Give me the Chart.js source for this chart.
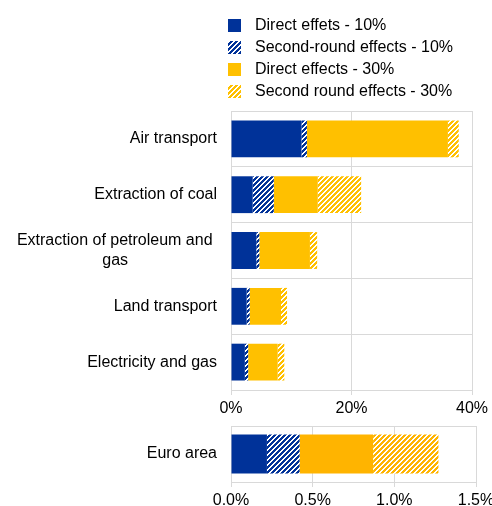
<!DOCTYPE html>
<html>
<head>
<meta charset="utf-8">
<script src="https://cdn.jsdelivr.net/npm/chart.js@4.4.0/dist/chart.umd.min.js"></script>
<style>
  body { margin: 0; background: #fff; font-family: "Liberation Sans", Arial, sans-serif; }
  #wrap { position: relative; width: 492px; height: 506px; overflow: hidden; }
  #legend { position: absolute; left: 228px; top: 14px; font-size: 16px; color: #000; }
  .item { display: flex; align-items: center; height: 22px; white-space: nowrap; }
  .item canvas { width: 13px; height: 13px; margin-right: 14px; }
  #top { position: absolute; left: 0; top: 100px; }
  #bottom { position: absolute; left: 0; top: 416px; }
</style>
</head>
<body>
<div id="wrap">
  <div id="legend"></div>
  <canvas id="top" width="492" height="330"></canvas>
  <canvas id="bottom" width="492" height="90"></canvas>
</div>
<script>
const BLUE = "#003299";
const YELLOW = "#FFC000";
const YELLOW_EA = "#FFB400";
const FONT = { family: "'Liberation Sans', Arial, sans-serif", size: 16 };

// series names
const seriesNames = [
  "Direct effets - 10%",
  "Second-round effects - 10%",
  "Direct effects - 30%",
  "Second round effects - 30%",
];

// sectors (top panel), values in %
const sectors = [
  "Air transport",
  "Extraction of coal",
  ["Extraction of petroleum and", "gas"],
  "Land transport",
  "Electricity and gas",
];
const direct10 = [11.7, 3.6, 4.2, 2.6, 2.3];
const second10 = [0.9, 3.5, 0.5, 0.5, 0.55];
const direct30 = [23.4, 7.3, 8.4, 5.2, 4.9];
const second30 = [1.8, 7.2, 1.2, 1.0, 1.1];
const topTickLabels = ["0%", "20%", "40%"];

// euro area (bottom panel), values in %
const euroLabel = ["Euro area"];
const euroDirect10 = [0.22];
const euroSecond10 = [0.2];
const euroDirect30 = [0.45];
const euroSecond30 = [0.4];
const euroTickLabels = ["0.0%", "0.5%", "1.0%", "1.5%"];

function hatchCanvas(color) {
  const c = document.createElement("canvas");
  c.width = c.height = 5;
  const g = c.getContext("2d");
  g.fillStyle = "#fff";
  g.fillRect(0, 0, 5, 5);
  g.fillStyle = color;
  for (let y = 0; y < 5; y++)
    for (let x = 0; x < 5; x++)
      if ((x + y) % 5 >= 2) g.fillRect(x, y, 1, 1);
  return c;
}
const hatch = (color) => document.createElement("canvas").getContext("2d").createPattern(hatchCanvas(color), "repeat");

// wrapped label: first line keeps a trailing space, second line centred under it
function centerSecondLine(lines) {
  const g = document.createElement("canvas").getContext("2d");
  g.font = "16px 'Liberation Sans', Arial, sans-serif";
  const w1 = g.measureText(lines[0]).width;
  const w2 = g.measureText(lines[1]).width;
  const sp = g.measureText("\u00a0").width;
  const n = Math.round(((w1 - w2) / 2 + sp) / sp);
  return [lines[0] + "\u00a0", lines[1] + "\u00a0".repeat(n)];
}
const sectorLabels = sectors.map((s) => (Array.isArray(s) ? centerSecondLine(s) : s));

// legend
const legendFills = [BLUE, hatchCanvas(BLUE), YELLOW, hatchCanvas(YELLOW)];
const legend = document.getElementById("legend");
seriesNames.forEach((name, i) => {
  const item = document.createElement("div");
  item.className = "item";
  const sw = document.createElement("canvas");
  sw.width = sw.height = 13;
  const g = sw.getContext("2d");
  const f = legendFills[i];
  g.fillStyle = typeof f === "string" ? f : g.createPattern(f, "repeat");
  g.fillRect(0, 0, 13, 13);
  item.append(sw, document.createTextNode(name));
  legend.append(item);
});

function makeOptions(max, step, tickLabels, padTop, axisHeight, padRight, barPct) {
  return {
    indexAxis: "y",
    responsive: false,
    animation: false,
    layout: { padding: { top: padTop, right: padRight, left: 0, bottom: 0 } },
    datasets: { bar: { barPercentage: barPct, categoryPercentage: 1 } },
    plugins: { legend: { display: false }, tooltip: { enabled: false } },
    scales: {
      x: {
        stacked: true,
        min: 0,
        max: max,
        ticks: {
          stepSize: step,
          font: FONT,
          color: "#000",
          padding: 4,
          maxRotation: 0,
          callback: (v, i) => tickLabels[i],
        },
        grid: { color: "#d9d9d9", tickLength: 5 },
        border: { color: "#d9d9d9" },
        afterFit: (s) => { s.height = axisHeight; s.paddingLeft = 0; s.paddingRight = 0; },
      },
      y: {
        stacked: true,
        ticks: { font: FONT, color: "#000", padding: 14 },
        grid: { color: "#d9d9d9", drawTicks: false },
        border: { color: "#d9d9d9" },
        afterFit: (s) => { s.width = 231; s.paddingTop = 0; s.paddingBottom = 0; },
      },
    },
  };
}

new Chart(document.getElementById("top"), {
  type: "bar",
  data: {
    labels: sectorLabels,
    datasets: [
      { label: seriesNames[0], data: direct10, backgroundColor: BLUE },
      { label: seriesNames[1], data: second10, backgroundColor: hatch(BLUE) },
      { label: seriesNames[2], data: direct30, backgroundColor: YELLOW },
      { label: seriesNames[3], data: second30, backgroundColor: hatch(YELLOW) },
    ],
  },
  options: makeOptions(40, 20, topTickLabels, 11, 40, 20, 0.66),
});

new Chart(document.getElementById("bottom"), {
  type: "bar",
  data: {
    labels: euroLabel,
    datasets: [
      { label: seriesNames[0], data: euroDirect10, backgroundColor: BLUE },
      { label: seriesNames[1], data: euroSecond10, backgroundColor: hatch(BLUE) },
      { label: seriesNames[2], data: euroDirect30, backgroundColor: YELLOW_EA },
      { label: seriesNames[3], data: euroSecond30, backgroundColor: hatch(YELLOW_EA) },
    ],
  },
  options: makeOptions(1.5, 0.5, euroTickLabels, 10, 24, 16, 0.7),
});
</script>
</body>
</html>
